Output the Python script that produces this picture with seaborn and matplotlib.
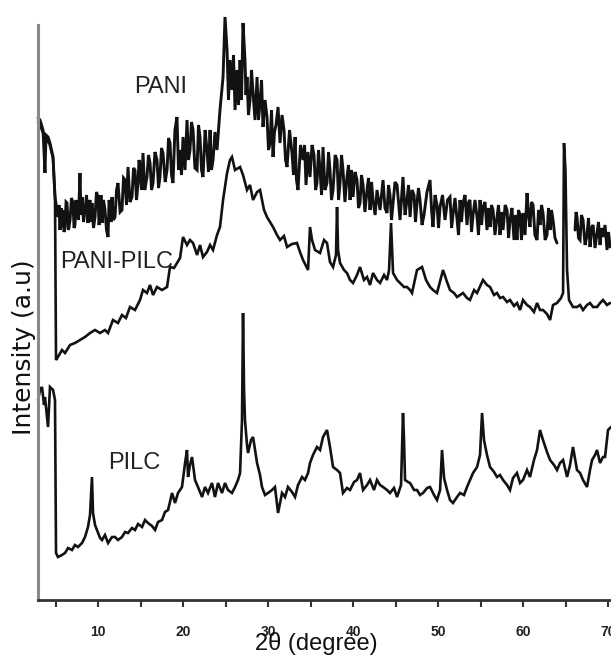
import numpy as np
import pandas as pd
import matplotlib
matplotlib.use("Agg")
import matplotlib.pyplot as plt
import seaborn as sns

# XRD patterns (2theta in degrees, intensity in a.u.)
pani_2t = [2.94, 3.18, 3.53, 3.76, 3.88, 4.12, 4.35, 4.71, 4.94,
           5.29, 5.41, 5.53, 5.65, 5.76, 5.88, 6.0, 6.12, 6.24, 6.35,
           6.53, 6.71, 6.88, 7.06, 7.18, 7.29, 7.41, 7.53, 7.7, 7.88,
           8.0, 8.12, 8.3, 8.47, 8.65, 8.82, 8.94, 9.06, 9.18, 9.29,
           9.47, 9.65, 9.82, 10.0, 10.12, 10.24, 10.35, 10.47, 10.65, 10.82,
           11.0, 11.18, 11.3, 11.41, 11.53, 11.65, 11.82, 12.0, 12.18, 12.35,
           12.6, 12.82, 13.0, 13.18, 13.35, 13.53, 13.76, 14.0, 14.18, 14.35,
           14.53, 14.71, 14.82, 14.94, 15.12, 15.29, 15.5, 15.76, 15.94, 16.12,
           16.3, 16.47, 16.7, 16.94, 17.12, 17.29, 17.47, 17.65, 17.9, 18.12,
           18.3, 18.47, 18.65, 18.82, 19.05, 19.29, 19.47, 19.65, 19.82, 20.0,
           20.24, 20.47, 20.65, 20.82, 21.0, 21.18, 21.4, 21.65, 21.82, 22.0,
           22.18, 22.35, 22.6, 22.82, 23.0, 23.18, 23.35, 23.53, 23.76, 24.0,
           24.18, 24.35,
           24.71, 24.94, 25.18, 25.35, 25.53, 25.76, 25.94, 26.12, 26.35, 26.53,
           26.71, 26.88, 27.06, 27.29, 27.41, 27.53, 27.7, 27.88, 28.06, 28.24,
           28.47, 28.71, 28.88, 29.06, 29.24, 29.41, 29.65, 29.88, 30.06, 30.24,
           30.41, 30.59, 30.76, 30.94, 31.18, 31.41, 31.65, 31.88, 32.06, 32.24,
           32.53, 32.82, 33.0, 33.18, 33.35, 33.53, 33.82, 34.12, 34.3, 34.47,
           34.7, 34.94, 35.18, 35.41, 35.6, 35.76, 35.94, 36.12, 36.3, 36.47,
           36.7, 36.94, 37.12, 37.29, 37.47, 37.65, 37.9, 38.12, 38.3, 38.47,
           38.65, 38.82, 39.05, 39.29, 39.47, 39.65, 39.82, 40.0, 40.24, 40.47,
           40.65, 40.82, 41.0, 41.18, 41.4, 41.65, 41.82, 42.0, 42.18, 42.35,
           42.6, 42.82, 43.18, 43.53, 43.76, 44.0, 44.18, 44.35, 44.53, 44.71,
           44.94, 45.18, 45.53, 45.88, 46.12, 46.35, 46.53, 46.71, 46.94, 47.18,
           47.35, 47.53, 47.7, 47.88, 48.12, 48.35, 48.7, 49.06, 49.24, 49.41,
           49.65, 49.88, 50.06, 50.24, 50.53, 50.82, 51.12, 51.41, 51.6, 51.76,
           52.0, 52.24, 52.41, 52.59, 52.76, 52.94, 53.18, 53.41, 53.6, 53.76,
           53.94, 54.12, 54.35, 54.59, 54.76, 54.94, 55.12, 55.29, 55.53, 55.76,
           55.94, 56.12, 56.3, 56.47, 56.7, 56.94, 57.12, 57.29, 57.47, 57.65,
           57.9, 58.12, 58.3, 58.47, 58.7, 58.94, 59.12, 59.29, 59.47, 59.65,
           59.82, 60.0, 60.24, 60.47, 60.65, 60.82, 61.0, 61.18, 61.4, 61.65,
           61.82, 62.0, 62.18, 62.35, 62.6, 62.82, 63.0, 63.18, 63.35, 63.53,
           63.76, 64.0,
           65.0,
           66.12, 66.24, 66.35, 66.53, 66.71, 66.88, 67.06, 67.3, 67.53, 67.7,
           67.88, 68.06, 68.24, 68.47, 68.71, 68.88, 69.06, 69.24, 69.41, 69.65,
           69.88, 70.06, 70.24]
pani_int = [482, 480, 470, 427, 465, 463, 457, 443, 403,
            383, 395, 370, 392, 373, 390, 368, 372, 398, 397,
            370, 380, 402, 397, 372, 375, 400, 390, 380, 427,
            385, 403, 378, 390, 405, 377, 395, 400, 378, 397,
            372, 383, 408, 403, 375, 385, 405, 377, 400, 390,
            370, 363, 400, 395, 378, 403, 380, 383, 410, 417,
            388, 390, 422, 420, 395, 433, 398, 403, 432, 430,
            400, 417, 440, 435, 410, 447, 410, 423, 445, 437,
            410, 417, 448, 440, 412, 423, 452, 447, 418, 430,
            462, 457, 425, 417, 470, 483, 430, 450, 425, 463,
            430, 480, 440, 450, 478, 470, 432, 430, 475, 463,
            430, 423, 470, 450, 428, 470, 430, 440, 468, 450,
            470, 490,
            523, 583, 550, 500, 540, 510, 545, 490, 530, 495,
            540, 500, 577, 540, 505, 523, 485, 500, 530, 507,
            480, 523, 480, 497, 520, 473, 500, 483, 450, 457,
            490, 443, 468, 475, 493, 457, 485, 470, 440, 433,
            470, 447, 425, 463, 420, 410, 455, 440, 455, 415,
            448, 423, 455, 445, 410, 417, 450, 430, 405, 453,
            410, 417, 448, 430, 400, 410, 445, 440, 400, 417,
            445, 430, 398, 423, 435, 400, 430, 403, 428, 420,
            392, 397, 425, 415, 388, 410, 422, 390, 418, 400,
            385, 410, 390, 420, 392, 387, 415, 405, 380, 397,
            418, 415, 380, 423, 385, 400, 415, 383, 410, 405,
            378, 397, 412, 400, 375, 385, 408, 420, 390, 373,
            405, 395, 372, 393, 405, 380, 400, 403, 372, 385,
            402, 380, 365, 400, 378, 397, 405, 375, 398, 400,
            368, 385, 400, 383, 365, 400, 375, 393, 398, 370,
            392, 373, 395, 390, 365, 383, 395, 365, 388, 370,
            395, 390, 362, 380, 392, 360, 385, 360, 390, 385,
            360, 387, 365, 407, 385, 373, 398, 395, 365, 360,
            390, 375, 395, 387, 360, 365, 392, 370, 390, 380,
            362, 357,
            np.nan,
            370, 388, 383, 362, 360, 385, 380, 355, 365, 382,
            353, 372, 375, 352, 367, 378, 355, 372, 363, 375,
            350, 368, 353]

pani_pilc_2t = [2.94, 3.3, 3.8, 4.3, 4.7, 4.94, 5.06, 5.29, 5.76, 6.12, 6.71, 7.29, 7.88,
                8.47, 9.06, 9.65, 10.24, 10.82, 11.18, 11.76, 12.35, 12.82, 13.29, 13.76,
                14.35, 14.94, 15.29, 15.76, 16.12, 16.47, 16.94, 17.53, 18.12, 18.47, 18.94,
                19.29, 19.65, 20.0, 20.47, 20.82, 21.18, 21.65, 22.0, 22.35, 22.82, 23.18,
                23.53, 24.0, 24.35, 24.71, 25.18, 25.53, 25.76, 26.12, 26.71, 27.06, 27.53,
                27.88, 28.24, 28.71, 29.06, 29.53, 29.88, 30.59, 31.06, 31.41, 31.88, 32.24,
                32.82, 33.41, 33.76, 34.12, 34.47, 34.71, 34.94, 35.18, 35.53, 36.12, 36.59,
                36.94, 37.29, 37.65, 38.0, 38.12, 38.24, 38.47, 38.94, 39.29, 39.65, 40.0,
                40.47, 40.82, 41.29, 41.65, 42.0, 42.35, 42.82, 43.18, 43.65, 44.0, 44.24,
                44.47, 44.71, 45.18, 45.53, 46.0, 46.35, 46.71, 46.94, 47.53, 48.12, 48.59,
                49.06, 49.41, 49.88, 50.59, 51.06, 51.41, 51.88, 52.24, 52.94, 53.41, 53.76,
                54.24, 54.59, 55.29, 55.76, 56.12, 56.59, 56.94, 57.29, 57.65, 58.12, 58.47,
                58.94, 59.29, 59.65, 60.0, 60.47, 60.82, 61.29, 61.65, 62.0, 62.35, 62.82,
                63.18, 63.53, 64.0, 64.47, 64.71, 64.82, 64.99, 65.18, 65.41, 65.88, 66.35,
                66.71, 67.06, 67.53, 67.88, 68.24, 68.71, 69.06, 69.41, 69.88, 70.24]
pani_pilc_int = [478, 472, 462, 456, 442, 403, 240, 243, 250, 247, 255, 257, 260,
                 263, 267, 270, 267, 270, 267, 280, 277, 285, 282, 293,
                 290, 300, 310, 307, 315, 305, 313, 310, 313, 333, 332,
                 337, 342, 363, 355, 360, 357, 345, 355, 343, 348, 355,
                 350, 365, 373, 400, 427, 440, 443, 430, 433, 425, 410,
                 415, 400, 408, 410, 390, 383, 373, 365, 360, 364, 353,
                 356, 357, 348, 340, 334, 330, 373, 360, 350, 347, 360,
                 357, 338, 333, 345, 393, 350, 337, 330, 327, 320, 317,
                 325, 333, 320, 323, 315, 327, 320, 317, 325, 320, 330,
                 377, 327, 320, 317, 313, 313, 310, 307, 330, 333, 320,
                 313, 310, 307, 330, 318, 310, 307, 303, 307, 302, 300,
                 310, 307, 320, 315, 313, 305, 307, 302, 303, 298, 300,
                 294, 297, 290, 300, 295, 293, 288, 297, 290, 290, 286,
                 280, 295, 297, 302, 307, 457, 430, 330, 300, 293, 293,
                 295, 290, 295, 297, 293, 293, 297, 300, 295, 297]

pilc_2t = [2.94, 3.18, 3.41, 3.65, 3.76, 4.12, 4.35, 4.71, 4.94, 5.06, 5.29, 5.76, 6.12, 6.47,
           6.94, 7.29, 7.65, 8.12, 8.47, 8.82, 9.06, 9.29, 9.41, 9.65, 9.88, 10.24, 10.47,
           10.82, 11.18, 11.65, 12.0, 12.35, 12.82, 13.18, 13.53, 14.0, 14.35, 14.71, 15.18,
           15.53, 15.88, 16.35, 16.71, 17.06, 17.53, 17.88, 18.24, 18.71, 19.06, 19.41, 19.88,
           20.24, 20.47, 20.59, 20.82, 21.06, 21.41, 21.76, 22.24, 22.59, 22.94, 23.41, 23.76,
           24.12, 24.59, 24.94, 25.29, 25.76, 26.12, 26.47, 26.71, 26.94, 27.06, 27.18, 27.29,
           27.53, 27.65, 28.0, 28.24, 28.47, 28.71, 29.06, 29.29, 29.65, 30.0, 30.47, 30.82,
           31.18, 31.65, 32.0, 32.35, 32.82, 33.18, 33.53, 34.0, 34.35, 34.71, 34.94, 35.29,
           35.76, 36.12, 36.47, 36.94, 37.29, 37.65, 38.12, 38.47, 38.82, 39.29, 39.65, 40.12,
           40.47, 40.82, 41.18, 41.65, 42.0, 42.47, 42.82, 43.18, 43.53, 44.0, 44.35, 44.82,
           45.18, 45.65, 45.88, 46.0, 46.12, 46.47, 46.71, 47.18, 47.53, 47.88, 48.24, 48.71,
           49.06, 49.53, 49.88, 50.24, 50.47, 50.71, 51.06, 51.41, 51.76, 52.24, 52.59, 53.06,
           53.41, 53.76, 54.12, 54.59, 54.94, 55.18, 55.41, 55.76, 56.12, 56.59, 56.94, 57.29,
           57.65, 58.12, 58.47, 58.82, 59.29, 59.65, 60.0, 60.47, 60.82, 61.29, 61.65, 62.0,
           62.35, 62.82, 63.18, 63.65, 64.0, 64.35, 64.71, 65.18, 65.53, 65.88, 66.35, 66.71,
           67.06, 67.53, 67.88, 68.12, 68.47, 68.71, 69.06, 69.41, 69.65, 70.0, 70.35]
pilc_int = [200, 210, 213, 195, 203, 173, 213, 210, 200, 47, 43, 45, 47, 52,
            50, 55, 53, 57, 63, 73, 85, 123, 87, 75, 70, 62, 60,
            65, 57, 63, 63, 60, 63, 68, 67, 72, 70, 76, 73,
            80, 77, 74, 70, 78, 80, 88, 90, 107, 97, 107, 113,
            137, 150, 123, 135, 143, 120, 113, 103, 113, 107, 117, 103,
            117, 107, 117, 110, 107, 113, 120, 127, 180, 287, 210, 180,
            155, 147, 160, 163, 150, 137, 125, 113, 105, 107, 110, 113,
            87, 107, 103, 113, 108, 103, 115, 123, 120, 127, 137, 145,
            153, 150, 163, 170, 153, 133, 130, 127, 107, 112, 110, 118,
            120, 127, 110, 115, 120, 110, 120, 115, 113, 110, 107, 112,
            103, 115, 187, 160, 120, 118, 117, 110, 110, 105, 107, 112,
            113, 105, 100, 110, 150, 122, 110, 100, 97, 103, 107, 105,
            113, 120, 127, 133, 145, 187, 160, 145, 133, 128, 123, 125,
            120, 115, 110, 122, 127, 117, 120, 130, 123, 140, 150, 170,
            160, 148, 140, 135, 130, 137, 140, 123, 135, 153, 130, 127,
            120, 113, 130, 140, 145, 150, 137, 143, 143, 170, 173]

curve_names = ["PANI", "PANI-PILC", "PILC"]
line_widths = {"PANI": 2.1, "PANI-PILC": 1.9, "PILC": 1.9}
major_ticks = [10, 20, 30, 40, 50, 60, 70]
minor_ticks = [5, 15, 25, 35, 45, 55, 65]

sns.set_style("ticks")
plt.rcParams["font.family"] = ["Liberation Sans", "DejaVu Sans"]

frames = []
for name, tt, ii in zip(curve_names, [pani_2t, pani_pilc_2t, pilc_2t],
                        [pani_int, pani_pilc_int, pilc_int]):
    d = pd.DataFrame({"two_theta": tt, "intensity": ii, "sample": name})
    # break the line where a value is missing
    d["seg"] = d["intensity"].isna().cumsum()
    frames.append(d.dropna())
xrd = pd.concat(frames, ignore_index=True)
xrd["unit"] = xrd["sample"] + "_" + xrd["seg"].astype(str)

fig = plt.figure(figsize=(6.11, 6.59), dpi=100)
ax = fig.add_axes([38 / 611, 59 / 659, 573 / 611, 575 / 659])

for name in curve_names:
    sns.lineplot(data=xrd[xrd["sample"] == name], x="two_theta", y="intensity",
                 units="unit", estimator=None, sort=False, color="#121212",
                 linewidth=line_widths[name], legend=False, ax=ax)
for ln in ax.lines:
    ln.set_clip_on(False)
    ln.set_solid_joinstyle("miter")

ax.set_xlim(2.94, 70.35)
ax.set_ylim(0, 575)
ax.set_yticks([])
ax.set_xticks(major_ticks)
ax.set_xticks(minor_ticks, minor=True)
ax.set_xticklabels([str(t) for t in major_ticks], fontsize=10, fontweight="bold",
                   color="#222222")
ax.tick_params(axis="x", which="both", direction="out", length=5, width=1.5,
               color="#333333", pad=13)

sns.despine(ax=ax)
ax.spines["left"].set_color("#8a8a8a")
ax.spines["left"].set_linewidth(2.2)
ax.spines["bottom"].set_color("#333333")
ax.spines["bottom"].set_linewidth(2.0)

ax.set_xlabel("2θ (degree)", fontsize=17, color="#111111")
ax.xaxis.set_label_coords(0.486, -0.056)
ax.set_ylabel("Intensity (a.u)", fontsize=18, color="#111111",
              family=["DejaVu Sans"])
ax.yaxis.set_label_coords(-0.004, 0.44)

ax.text(17.4, 513, "PANI", fontsize=17, ha="center", va="center", color="#222222")
ax.text(12.2, 338, "PANI-PILC", fontsize=17, ha="center", va="center", color="#222222")
ax.text(14.3, 137, "PILC", fontsize=17, ha="center", va="center", color="#222222")

fig.savefig("out.png", dpi=100)
